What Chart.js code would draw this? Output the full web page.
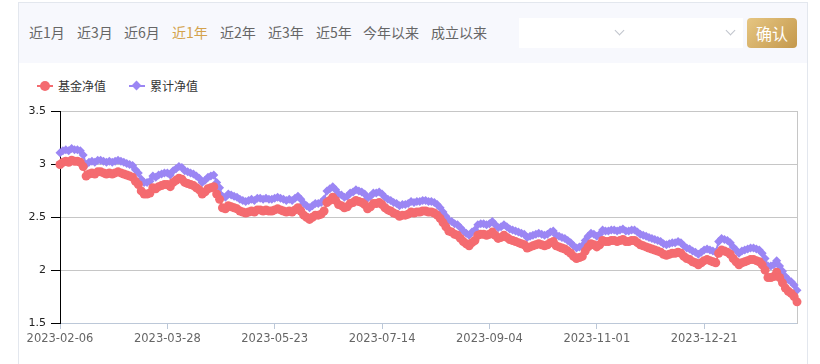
<!DOCTYPE html>
<html>
<head>
<meta charset="utf-8">
<script src="https://cdn.jsdelivr.net/npm/chart.js@4.4.0/dist/chart.umd.min.js"></script>
<style>
body{margin:0;background:#fff;font-family:"Noto Sans CJK SC","Noto Sans",sans-serif;overflow:hidden;}
#frame{position:absolute;left:18px;top:2px;width:788px;height:370px;border:1px solid #e3e7ee;border-bottom:none;}
#bar{position:absolute;left:0;top:0;width:788px;height:60px;background:#f7f8fd;}
.tab{position:absolute;top:19px;font-size:14px;line-height:20px;color:#666;white-space:nowrap;}
.tab.on{color:#d4a24c;}
.sel{position:absolute;top:15px;height:30px;background:#fff;}
.chev{position:absolute;top:9px;width:6px;height:6px;border-right:1px solid #c0c4cc;border-bottom:1px solid #c0c4cc;transform:rotate(45deg);}
#ok{position:absolute;left:728px;top:15px;width:50px;height:30px;border-radius:4px;background:linear-gradient(135deg,#e6c682,#c4984c);color:#fff;font-size:16px;line-height:30px;text-align:center;}
.lg{position:absolute;font-size:12px;line-height:16px;color:#333;top:78px;}
.lgline{position:absolute;top:85px;width:16px;height:2px;}
#chart{position:absolute;left:0;top:100px;}
</style>
</head>
<body>
<div id="frame">
  <div id="bar">
    <div class="tab" style="left:10px">近1月</div>
    <div class="tab" style="left:58px">近3月</div>
    <div class="tab" style="left:105px">近6月</div>
    <div class="tab on" style="left:153px">近1年</div>
    <div class="tab" style="left:201px">近2年</div>
    <div class="tab" style="left:249px">近3年</div>
    <div class="tab" style="left:297px">近5年</div>
    <div class="tab" style="left:344px">今年以来</div>
    <div class="tab" style="left:412px">成立以来</div>
    <div class="sel" style="left:500px;width:112px"><div class="chev" style="left:97px"></div></div>
    <div class="sel" style="left:612px;width:112px"><div class="chev" style="left:96px"></div></div>
    <div id="ok">确认</div>
  </div>
</div>
<div class="lgline" style="left:37px;background:#f46b70"></div>
<div style="position:absolute;left:40px;top:81px;width:10px;height:10px;border-radius:50%;background:#f46b70"></div>
<div class="lg" style="left:58px">基金净值</div>
<div class="lgline" style="left:129px;background:#9b86f4"></div>
<div style="position:absolute;left:133px;top:82px;width:7px;height:7px;transform:rotate(45deg);background:#9b86f4"></div>
<div class="lg" style="left:150px">累计净值</div>
<canvas id="chart" width="820" height="264"></canvas>
<script>
var tickLabels = ['2023-02-06','2023-03-28','2023-05-23','2023-07-14','2023-09-04','2023-11-01','2023-12-21'];
var tickEvery = 37;

var unitNav = [
3.00,3.02,3.03,3.02,3.04,3.03,3.03,3.02,2.98,2.89,
2.91,2.92,2.91,2.93,2.93,2.92,2.91,2.92,2.91,2.92,
2.93,2.92,2.91,2.90,2.89,2.88,2.84,2.81,2.75,2.72,
2.72,2.73,2.78,2.77,2.79,2.80,2.81,2.81,2.79,2.83,
2.85,2.87,2.86,2.83,2.82,2.81,2.80,2.78,2.76,2.72,
2.74,2.77,2.78,2.79,2.72,2.67,2.59,2.58,2.61,2.60,
2.59,2.58,2.56,2.55,2.54,2.55,2.56,2.55,2.57,2.57,
2.56,2.57,2.56,2.56,2.57,2.58,2.57,2.56,2.55,2.56,
2.55,2.57,2.59,2.56,2.52,2.50,2.48,2.50,2.52,2.52,
2.53,2.56,2.64,2.66,2.69,2.66,2.62,2.61,2.59,2.60,
2.63,2.64,2.66,2.65,2.64,2.62,2.58,2.60,2.63,2.63,
2.64,2.62,2.59,2.57,2.56,2.54,2.53,2.51,2.52,2.52,
2.53,2.55,2.54,2.55,2.55,2.56,2.56,2.55,2.55,2.54,
2.52,2.49,2.45,2.41,2.37,2.36,2.34,2.33,2.30,2.27,
2.25,2.23,2.26,2.28,2.33,2.34,2.34,2.33,2.34,2.36,
2.33,2.30,2.31,2.33,2.31,2.29,2.28,2.27,2.26,2.25,
2.24,2.21,2.22,2.23,2.24,2.25,2.24,2.23,2.24,2.26,
2.27,2.23,2.22,2.21,2.20,2.18,2.16,2.13,2.11,2.12,
2.13,2.18,2.22,2.25,2.24,2.22,2.24,2.28,2.27,2.27,
2.28,2.28,2.27,2.28,2.29,2.27,2.27,2.28,2.28,2.26,
2.24,2.23,2.22,2.21,2.20,2.19,2.18,2.17,2.15,2.14,
2.15,2.16,2.16,2.17,2.16,2.13,2.11,2.10,2.08,2.07,
2.05,2.07,2.09,2.10,2.09,2.08,2.07,2.16,2.19,2.18,
2.17,2.15,2.11,2.08,2.05,2.07,2.08,2.09,2.10,2.10,
2.09,2.08,2.05,2.00,1.93,1.93,1.94,1.98,1.93,1.88,
1.83,1.80,1.78,1.75,1.70
];

var accNav = [
3.11,3.13,3.14,3.13,3.15,3.14,3.14,3.13,3.09,3.00,
3.02,3.03,3.02,3.04,3.04,3.03,3.02,3.03,3.02,3.03,
3.04,3.03,3.02,3.01,3.00,2.99,2.95,2.92,2.86,2.83,
2.83,2.84,2.89,2.88,2.90,2.91,2.92,2.92,2.90,2.94,
2.96,2.98,2.97,2.94,2.93,2.92,2.91,2.89,2.87,2.83,
2.85,2.88,2.89,2.90,2.83,2.78,2.70,2.69,2.72,2.71,
2.70,2.69,2.67,2.66,2.65,2.66,2.67,2.66,2.68,2.68,
2.67,2.68,2.67,2.67,2.68,2.69,2.68,2.67,2.66,2.67,
2.66,2.68,2.70,2.67,2.63,2.61,2.59,2.61,2.63,2.63,
2.64,2.67,2.75,2.77,2.79,2.76,2.72,2.71,2.69,2.70,
2.73,2.74,2.76,2.75,2.74,2.72,2.68,2.70,2.73,2.73,
2.74,2.72,2.69,2.67,2.66,2.64,2.63,2.61,2.62,2.62,
2.63,2.65,2.64,2.65,2.65,2.66,2.66,2.65,2.65,2.64,
2.62,2.59,2.55,2.51,2.47,2.46,2.44,2.43,2.40,2.37,
2.35,2.33,2.36,2.38,2.43,2.44,2.44,2.43,2.44,2.46,
2.43,2.40,2.41,2.43,2.41,2.39,2.38,2.37,2.36,2.35,
2.34,2.31,2.32,2.33,2.34,2.35,2.34,2.33,2.34,2.36,
2.37,2.33,2.32,2.31,2.30,2.28,2.26,2.23,2.21,2.22,
2.23,2.28,2.32,2.35,2.34,2.32,2.34,2.38,2.37,2.37,
2.38,2.38,2.37,2.38,2.39,2.37,2.37,2.38,2.38,2.36,
2.34,2.33,2.32,2.31,2.30,2.29,2.28,2.27,2.25,2.24,
2.25,2.26,2.26,2.27,2.26,2.23,2.21,2.20,2.18,2.17,
2.15,2.17,2.19,2.20,2.19,2.18,2.17,2.27,2.30,2.29,
2.28,2.26,2.22,2.19,2.16,2.18,2.19,2.20,2.21,2.21,
2.20,2.19,2.16,2.11,2.04,2.04,2.05,2.09,2.04,1.99,
1.94,1.91,1.89,1.86,1.81
];

var days = unitNav.map(function(v, i){ return i; });

var red = '#f46b70';
var purple = '#9b86f4';

new Chart(document.getElementById('chart'), {
    type: 'line',
    data: {
        labels: days,
        datasets: [{
            label: '基金净值',
            data: unitNav,
            borderColor: red,
            backgroundColor: red,
            borderWidth: 2,
            pointStyle: 'circle',
            pointRadius: 4.5,
            pointBorderWidth: 0,
            tension: 0,
            clip: false
        }, {
            label: '累计净值',
            data: accNav,
            borderColor: purple,
            backgroundColor: purple,
            borderWidth: 2,
            pointStyle: 'rectRot',
            pointRadius: 4.5,
            pointBorderWidth: 0,
            tension: 0,
            clip: false
        }]
    },
    options: {
        responsive: false,
        animation: false,
        layout: { padding: { top: 10, right: 23, left: 0, bottom: 0 } },
        plugins: {
            legend: { display: false },
            tooltip: { enabled: false }
        },
        scales: {
            x: {
                ticks: {
                    autoSkip: false,
                    maxRotation: 0,
                    color: '#666',
                    padding: 3,
                    font: { family: 'DejaVu Sans', size: 11.5 },
                    callback: function(v, i){ return i % tickEvery === 0 ? tickLabels[i / tickEvery] : null; }
                },
                grid: { drawOnChartArea: false, tickLength: 6, tickColor: '#bcc8d8' },
                border: { color: '#bcc8d8' },
                afterFit: function(s){ s.height = 41; }
            },
            y: {
                min: 1.5,
                max: 3.5,
                ticks: {
                    stepSize: 0.5,
                    color: '#222',
                    padding: 5,
                    font: { family: 'DejaVu Sans', size: 11 },
                    callback: function(v){ return String(v); }
                },
                grid: {
                    color: function(c){ return c.tick && c.tick.value === 1.5 ? 'rgba(0,0,0,0)' : '#c6c6c6'; },
                    tickColor: '#000',
                    tickLength: 9
                },
                border: { color: '#000' },
                afterFit: function(s){ s.width = 60; }
            },
            y2: {
                position: 'right',
                min: 1.5,
                max: 3.5,
                ticks: { display: false },
                grid: { drawOnChartArea: false, drawTicks: false },
                border: { color: '#c6c6c6' },
                afterFit: function(s){ s.width = 0; }
            }
        }
    }
});
</script>
</body>
</html>
